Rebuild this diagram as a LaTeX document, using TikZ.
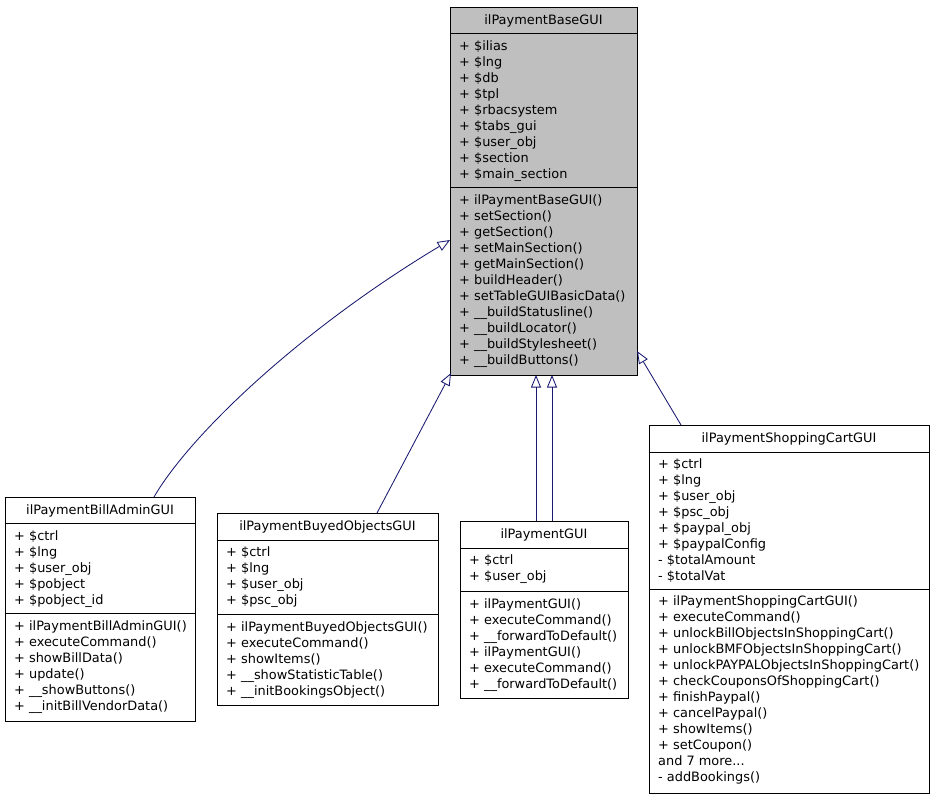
\documentclass[tikz,border=0pt]{standalone}
\usepackage{fontspec}
\setmainfont{DejaVu Sans}
\usetikzlibrary{arrows.meta}
\definecolor{basegray}{HTML}{BFBFBF}
\definecolor{navy}{HTML}{191970}
\newcommand\fs{\fontsize{12.9}{16}\selectfont}
\tikzset{
  box/.style={draw=black, line width=0.9pt, fill=white, inner sep=0pt, anchor=north west},
  basebox/.style={box, fill=basegray},
  txt/.style={anchor=base west, inner sep=0pt, font=\fs},
  ttl/.style={anchor=base, inner sep=0pt, font=\fs},
  divline/.style={draw=black, line width=0.9pt},
  inh/.style={draw=navy, line width=0.85pt, -{Triangle[open, length=12.5pt, width=10pt]}}
}
\begin{document}
\begin{tikzpicture}[x=1pt, y=-1pt]
\useasboundingbox (0,0) rectangle (933,800);
% ---------- base class ----------
\node[basebox, minimum width=187pt, minimum height=368pt] (base) at (450,7) {};
\draw[divline] (450,33) -- (637,33);
\draw[divline] (450,187) -- (637,187);
\node[ttl] (baseT) at (543.5,24.5) {ilPaymentBaseGUI};
\foreach \s [count=\i from 0] in {+ \$ilias, + \$lng, + \$db, + \$tpl, + \$rbacsystem, + \$tabs\_gui, + \$user\_obj, + \$section, + \$main\_section}
  \node[txt] (baseA\i) at (459,50.5+16*\i) {\s};
\foreach \s [count=\i from 0] in {+ ilPaymentBaseGUI(), + setSection(), + getSection(), + setMainSection(), + getMainSection(), + buildHeader(), + setTableGUIBasicData(), + \_\_buildStatusline(), + \_\_buildLocator(), + \_\_buildStylesheet(), + \_\_buildButtons()}
  \node[txt] (baseM\i) at (459,204.5+16*\i) {\s};
% ---------- ilPaymentBillAdminGUI ----------
\node[box, minimum width=190pt, minimum height=224pt] (bill) at (5,497) {};
\draw[divline] (5,523) -- (195,523);
\draw[divline] (5,613) -- (195,613);
\node[ttl] (billT) at (100,514.5) {ilPaymentBillAdminGUI};
\foreach \s [count=\i from 0] in {+ \$ctrl, + \$lng, + \$user\_obj, + \$pobject, + \$pobject\_id}
  \node[txt] (billA\i) at (14,540.5+16*\i) {\s};
\foreach \s [count=\i from 0] in {+ ilPaymentBillAdminGUI(), + executeCommand(), + showBillData(), + update(), + \_\_showButtons(), + \_\_initBillVendorData()}
  \node[txt] (billM\i) at (14,630.5+16*\i) {\s};
% ---------- ilPaymentBuyedObjectsGUI ----------
\node[box, minimum width=221pt, minimum height=192pt] (buyed) at (217,513) {};
\draw[divline] (217,540) -- (438,540);
\draw[divline] (217,614) -- (438,614);
\node[ttl] (buyedT) at (327.5,530.5) {ilPaymentBuyedObjectsGUI};
\foreach \s [count=\i from 0] in {+ \$ctrl, + \$lng, + \$user\_obj, + \$psc\_obj}
  \node[txt] (buyedA\i) at (226,556.5+16*\i) {\s};
\foreach \s [count=\i from 0] in {+ ilPaymentBuyedObjectsGUI(), + executeCommand(), + showItems(), + \_\_showStatisticTable(), + \_\_initBookingsObject()}
  \node[txt] (buyedM\i) at (226,631.5+16*\i) {\s};
% ---------- ilPaymentGUI ----------
\node[box, minimum width=168pt, minimum height=177pt] (pay) at (460,521) {};
\draw[divline] (460,548) -- (628,548);
\draw[divline] (460,591) -- (628,591);
\node[ttl] (payT) at (544,538.5) {ilPaymentGUI};
\foreach \s [count=\i from 0] in {+ \$ctrl, + \$user\_obj}
  \node[txt] (payA\i) at (469,564.5+16*\i) {\s};
\foreach \s [count=\i from 0] in {+ ilPaymentGUI(), + executeCommand(), + \_\_forwardToDefault(), + ilPaymentGUI(), + executeCommand(), + \_\_forwardToDefault()}
  \node[txt] (payM\i) at (469,608.5+16*\i) {\s};
% ---------- ilPaymentShoppingCartGUI ----------
\node[box, minimum width=280pt, minimum height=368pt] (cart) at (649,425) {};
\draw[divline] (649,452) -- (929,452);
\draw[divline] (649,589) -- (929,589);
\node[ttl] (cartT) at (789,442.5) {ilPaymentShoppingCartGUI};
\foreach \s [count=\i from 0] in {+ \$ctrl, + \$lng, + \$user\_obj, + \$psc\_obj, + \$paypal\_obj, + \$paypalConfig, - \$totalAmount, - \$totalVat}
  \node[txt] (cartA\i) at (658,468.5+16*\i) {\s};
\foreach \s [count=\i from 0] in {+ ilPaymentShoppingCartGUI(), + executeCommand(), + unlockBillObjectsInShoppingCart(), + unlockBMFObjectsInShoppingCart(), + unlockPAYPALObjectsInShoppingCart(), + checkCouponsOfShoppingCart(), + finishPaypal(), + cancelPaypal(), + showItems(), + setCoupon(), and 7 more.{}.{}., - addBookings()}
  \node[txt] (cartM\i) at (658,605.5+16*\i) {\s};
% ---------- connector end points ----------
\coordinate (e1s) at (154,497);
\coordinate (e1t) at (450,240);
\coordinate (e2s) at (377,513);
\coordinate (e2t) at (451,373);
\coordinate (e3s) at (536,521);
\coordinate (e3t) at (536,375);
\coordinate (e4s) at (552,521);
\coordinate (e4t) at (552,375);
\coordinate (e5s) at (681,425);
\coordinate (e5t) at (637,351);
% ---------- inheritance connectors ----------
\draw[inh] (e1s) .. controls (190,435) and (300,330) .. (e1t);
\draw[inh] (e2s) -- (e2t);
\draw[inh] (e3s) -- (e3t);
\draw[inh] (e4s) -- (e4t);
\draw[inh] (e5s) -- (e5t);
\end{tikzpicture}
\end{document}
